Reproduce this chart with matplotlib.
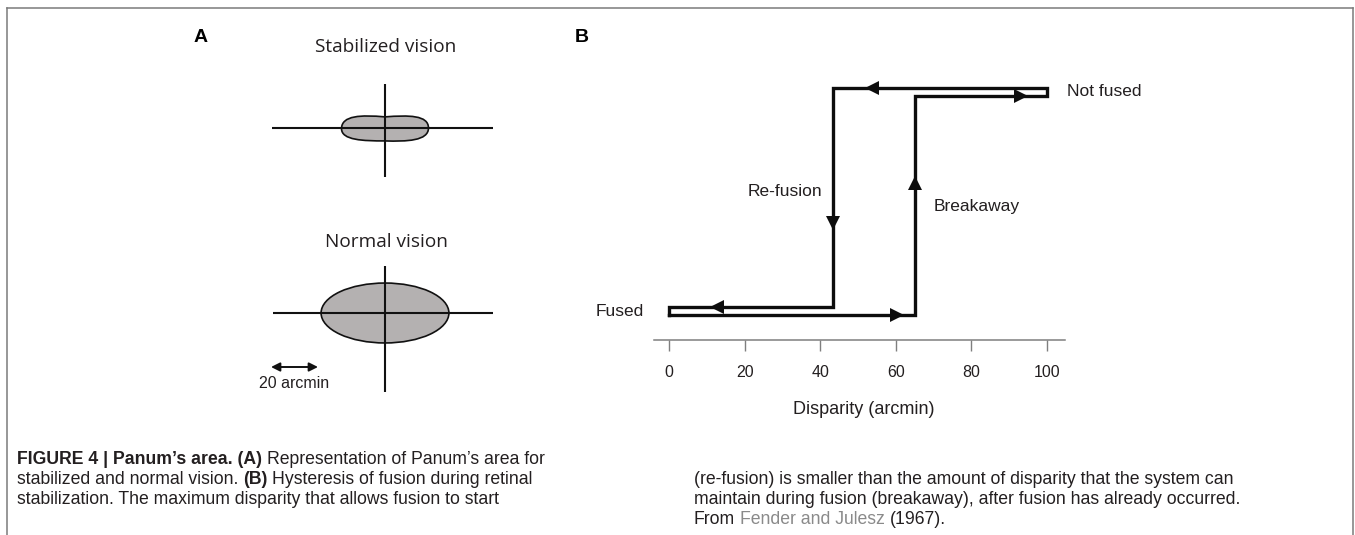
import matplotlib
matplotlib.use("Agg")
import matplotlib.pyplot as plt
from matplotlib.patches import Ellipse, PathPatch
from matplotlib.path import Path
from matplotlib.lines import Line2D
from matplotlib import font_manager

# ---------------- data ----------------
disparity_ticks = [0, 20, 40, 60, 80, 100]
xlabel_text = "Disparity (arcmin)"

# hysteresis loop (disparity in arcmin, state: 0 = fused, 1 = not fused)
breakaway_x = [0, 65, 65, 100]
breakaway_y = [0, 0, 1, 1]
refusion_x = [100, 43.5, 43.5, 0]
refusion_y = [1, 1, 0, 0]
loop_gap = 0.036

# direction arrows on the loop
arrow_x = [60.2, 65, 93.0, 53.8, 43.5, 12.7]
arrow_y = [0.0, 0.605, 1.0, 1.036, 0.418, 0.036]
arrow_dir = [">", "^", ">", "<", "v", "<"]

loop_labels = ["Not fused", "Re-fusion", "Breakaway", "Fused"]

# Panum's area sizes (arcmin)
stab_area_w, stab_area_h = 37.0, 11.0
normal_area_w, normal_area_h = 54.4, 25.5
scale_bar_arcmin = 20

caption_left = [
    [("FIGURE 4 | Panum\u2019s area. (A)", "bold", "#231f20"),
     ("Representation of Panum\u2019s area for", "normal", "#231f20")],
    [("stabilized and normal vision.", "normal", "#231f20"),
     ("(B)", "bold", "#231f20"),
     ("Hysteresis of fusion during retinal", "normal", "#231f20")],
    [("stabilization. The maximum disparity that allows fusion to start", "normal", "#231f20")],
]
caption_right = [
    [("(re-fusion) is smaller than the amount of disparity that the system can", "normal", "#231f20")],
    [("maintain during fusion (breakaway), after fusion has already occurred.", "normal", "#231f20")],
    [("From", "normal", "#231f20"), ("Fender and Julesz", "normal", "#8a8a8a"),
     ("(1967).", "normal", "#231f20")],
]

# ---------------- figure ----------------
W, H = 1355, 535
fig = plt.figure(figsize=(W / 100, H / 100), dpi=100)
fig.patch.set_facecolor("white")


def fx(px):
    return px / W


def fy(py):
    return 1 - py / H


names = {f.name for f in font_manager.fontManager.ttflist}
narrow = "Liberation Sans Narrow" if "Liberation Sans Narrow" in names else None
arial = ["Liberation Sans", "DejaVu Sans"]
human = ["Open Sans", "Lato", "DejaVu Sans"]

# frame
for xs, ys in [((7.5, 7.5), (535, 7.5)), ((7.5, 1352.5), (7.5, 7.5)), ((1352.5, 1352.5), (7.5, 535))]:
    fig.add_artist(Line2D([fx(x) for x in xs], [fy(y) for y in ys], color="#7a7a7a", lw=1.1))

# panel letters
fig.text(fx(201), fy(38), "A", fontsize=14, fontweight="bold", family=arial, ha="center", va="center")
fig.text(fx(582), fy(38), "B", fontsize=14, fontweight="bold", family=arial, ha="center", va="center")

# ---------------- panel A ----------------
pxa = 2.35  # pixels per arcmin
ax0, ax1, ay0, ay1 = 180, 560, 20, 420
cx, cy = 385, 128
axA = fig.add_axes([fx(ax0), fy(ay1), (ax1 - ax0) / W, (ay1 - ay0) / H])
axA.set_xlim((ax0 - cx) / pxa, (ax1 - cx) / pxa)
axA.set_ylim((cy - ay1) / pxa, (cy - ay0) / pxa)
axA.axis("off")

stab_c = (0.0, 0.0)
norm_c = (0.0, (cy - 313) / pxa)

# stabilized blob (slightly waisted rounded bar)
hw, hh = stab_area_w / 2, stab_area_h / 2
verts = [(-hw, -0.3),
         (-hw, hh * 0.98), (-hw * 0.55, hh * 1.02), (0, hh * 0.86),
         (hw * 0.55, hh * 1.0), (hw, hh * 1.0), (hw, 0.0),
         (hw, -hh * 1.0), (hw * 0.5, -hh * 1.05), (0, -hh * 1.0),
         (-hw * 0.5, -hh * 1.0), (-hw, -hh * 0.95), (-hw, -0.3)]
codes = [Path.MOVETO] + [Path.CURVE4] * 12
blob = PathPatch(Path([(x + stab_c[0], y + stab_c[1]) for x, y in verts], codes),
                 facecolor="#b4b1b1", edgecolor="#111111", lw=1.2)
axA.add_patch(blob)
axA.plot([-48, 46], [0, 0], color="#111111", lw=1.5, solid_capstyle="butt")
axA.plot([0, 0], [-20.9, 18.7], color="#111111", lw=1.5, solid_capstyle="butt")

# normal ellipse
ell = Ellipse(norm_c, normal_area_w, normal_area_h, facecolor="#b4b1b1", edgecolor="#111111", lw=1.2)
axA.add_patch(ell)
axA.plot([-47.7, 45.9], [norm_c[1]] * 2, color="#111111", lw=1.5, solid_capstyle="butt")
axA.plot([0, 0], [norm_c[1] - 33.6, norm_c[1] + 20.0], color="#111111", lw=1.5, solid_capstyle="butt")

axA.text(0.4, (cy - 47) / pxa, "Stabilized vision", fontsize=13.7, family=human, ha="center", va="center", color="#231f20")
axA.text(0.4, (cy - 242) / pxa, "Normal vision", fontsize=13.7, family=human, ha="center", va="center", color="#231f20")

bar_y = (cy - 367) / pxa
bar_x0 = (271 - cx) / pxa
axA.annotate("", xy=(bar_x0 + scale_bar_arcmin, bar_y), xytext=(bar_x0, bar_y),
             arrowprops=dict(arrowstyle="<|-|>", color="#111111", lw=1.4, mutation_scale=13,
                             shrinkA=0, shrinkB=0))
axA.text(bar_x0 + scale_bar_arcmin / 2, (cy - 383) / pxa, f"{scale_bar_arcmin} arcmin",
         fontsize=11.5, family=arial, ha="center", va="center", color="#231f20")

# ---------------- panel B ----------------
bl, br, bt, bb = 654, 1065, 60, 340
px0, pxs = 669, 3.78   # pixel of 0 disparity, px per arcmin
py0, pys = 315, 219    # pixel of fused level, px per state unit
axB = fig.add_axes([fx(bl), fy(bb), (br - bl) / W, (bb - bt) / H])
axB.set_xlim((bl - px0) / pxs, (br - px0) / pxs)
axB.set_ylim((py0 - bb) / pys, (py0 - bt) / pys)
for s in ["top", "right", "left"]:
    axB.spines[s].set_visible(False)
axB.spines["bottom"].set_color("#7f7f7f")
axB.spines["bottom"].set_linewidth(1.1)
axB.set_yticks([])
axB.set_xticks(disparity_ticks)
axB.set_xticklabels([str(t) for t in disparity_ticks], family=arial, fontsize=11.5, color="#231f20")
axB.tick_params(axis="x", direction="out", length=8, width=1.0, color="#7f7f7f", pad=10)
axB.set_xlabel(xlabel_text, fontsize=13, family=arial, color="#231f20")
axB.xaxis.set_label_coords((864 - bl) / (br - bl), (bb - 410) / (bb - bt))
axB.xaxis.label.set_va("center")
axB.patch.set_visible(False)

loop_x = breakaway_x + refusion_x + [breakaway_x[0]]
loop_y = breakaway_y + [v + loop_gap for v in refusion_y] + [breakaway_y[0]]
axB.plot(loop_x, loop_y, color="#0d0d0d", lw=2.4, solid_joinstyle="miter", clip_on=False)

for x, y, m in zip(arrow_x, arrow_y, arrow_dir):
    axB.plot([x], [y], marker=m, markersize=10, color="#0d0d0d", markeredgewidth=0, clip_on=False)


def bx(px):
    return (px - px0) / pxs


def by(py):
    return (py0 - py) / pys


axB.text(bx(1067), by(91), loop_labels[0], fontsize=12.5, family=arial, ha="left", va="center", clip_on=False, color="#231f20")
axB.text(bx(822), by(192), loop_labels[1], fontsize=12.5, family=arial, ha="right", va="center", color="#231f20")
axB.text(bx(934), by(207), loop_labels[2], fontsize=12.5, family=arial, ha="left", va="center", color="#231f20")
axB.text(bx(644), by(312), loop_labels[3], fontsize=12.5, family=arial, ha="right", va="center", clip_on=False, color="#231f20")

# ---------------- caption ----------------
renderer = fig.canvas.get_renderer()
cap_family = [narrow, "Liberation Sans"] if narrow else ["Liberation Sans"]
cap_size = 13.8 if narrow else 12.7


def space_width(weight):
    t1 = fig.text(0, 0, "x x", fontsize=cap_size, family=cap_family, fontweight=weight)
    t2 = fig.text(0, 0, "xx", fontsize=cap_size, family=cap_family, fontweight=weight)
    w = t1.get_window_extent(renderer).width - t2.get_window_extent(renderer).width
    t1.remove(); t2.remove()
    return w


sp = space_width("normal")


def draw_lines(x_px, y_px, lines, step):
    for i, pieces in enumerate(lines):
        x = x_px
        for j, (s, wgt, col) in enumerate(pieces):
            if j > 0:
                x += sp
            t = fig.text(fx(x), fy(y_px + i * step), s, fontsize=cap_size, family=cap_family,
                         fontweight=wgt, color=col, ha="left", va="center")
            x = t.get_window_extent(renderer).x1


draw_lines(17, 460, caption_left, 19.5)
draw_lines(694, 480, caption_right, 19.5)

fig.savefig("out.png", dpi=100, facecolor="white")
